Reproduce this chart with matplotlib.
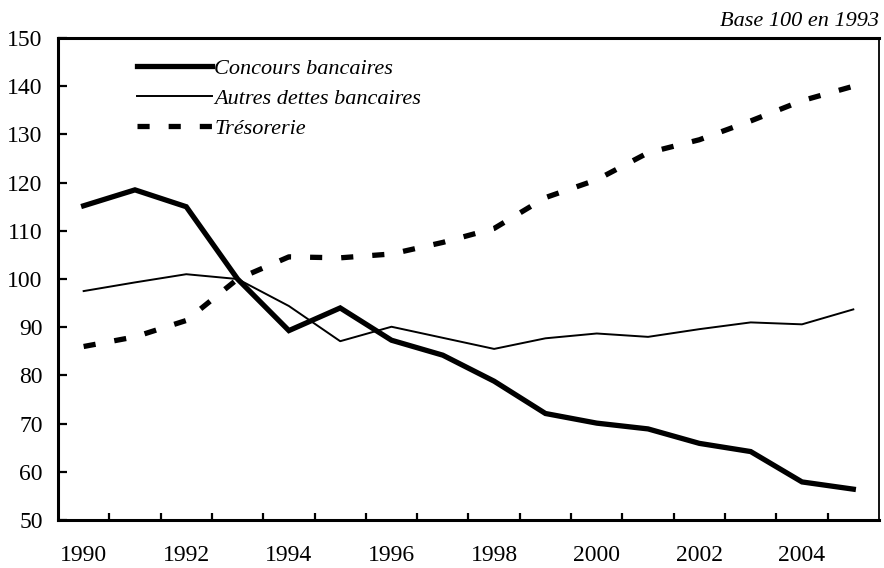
import numpy as np
import matplotlib as mpl
mpl.use("Agg")
import matplotlib.pyplot as plt
from matplotlib.ticker import FixedLocator, NullFormatter

# --------------------------------------------------------------------------
# data (base 100 en 1993)
# --------------------------------------------------------------------------
years = [1990, 1991, 1992, 1993, 1994, 1995, 1996, 1997,
         1998, 1999, 2000, 2001, 2002, 2003, 2004, 2005]
concours = [115.2, 118.5, 115.0, 100.0, 89.3, 94.0, 87.3, 84.2,
            78.8, 72.1, 70.1, 68.9, 65.9, 64.2, 57.9, 56.4]
autres = [97.5, 99.3, 101.0, 100.0, 94.4, 87.1, 90.1, 87.8,
          85.5, 87.7, 88.7, 88.0, 89.6, 91.0, 90.6, 93.7]
tresorerie = [86.0, 88.0, 91.4, 100.0, 104.6, 104.4, 105.2, 107.6,
              110.5, 116.9, 120.6, 126.2, 128.9, 132.8, 137.0, 140.0]

SERIF = ["Liberation Serif", "DejaVu Serif"]
mpl.rcParams["font.family"] = SERIF

fig = plt.figure(figsize=(8.84, 5.68), dpi=100)
ax = fig.add_axes([0.0656, 0.0845, 0.9287, 0.8485])

x = np.arange(len(years))
ax.plot(x, concours, color="black", lw=3.8, solid_joinstyle="miter",
        label="Concours bancaires")
ax.plot(x, autres, color="black", lw=1.4, label="Autres dettes bancaires")
ax.plot(x, tresorerie, color="black", lw=3.8, linestyle=(0, (2.3, 3.6)),
        dash_capstyle="butt", label="Trésorerie")

ax.set_xlim(-0.5, len(years) - 0.5)
ax.set_ylim(50, 150)

# category axis: labels every other year, ticks on category boundaries
ax.xaxis.set_major_locator(FixedLocator(x[::2]))
ax.set_xticklabels([str(y) for y in years[::2]])
ax.xaxis.set_minor_locator(FixedLocator(x[:-1] + 0.5))
ax.xaxis.set_minor_formatter(NullFormatter())
ax.tick_params(axis="x", which="major", length=0, pad=18, labelsize=17)
ax.tick_params(axis="x", which="minor", direction="in", length=5, width=1.6)

ax.set_yticks(np.arange(50, 151, 10))
ax.tick_params(axis="y", direction="in", length=6.5, width=1.6, pad=11,
               labelsize=17)

for side in ("left", "bottom", "top"):
    ax.spines[side].set_linewidth(2.2)
ax.spines["right"].set_linewidth(1.3)

leg = ax.legend(loc="upper left", bbox_to_anchor=(0.085, 0.977),
                frameon=False, handlelength=3.4, handletextpad=0.1,
                labelspacing=0.43, borderaxespad=0,
                prop={"family": SERIF, "style": "italic", "size": 16})

fig.text(0.994, 0.963, "Base 100 en 1993", ha="right", va="center",
         fontsize=16, style="italic")

fig.savefig("out.png", dpi=100)
